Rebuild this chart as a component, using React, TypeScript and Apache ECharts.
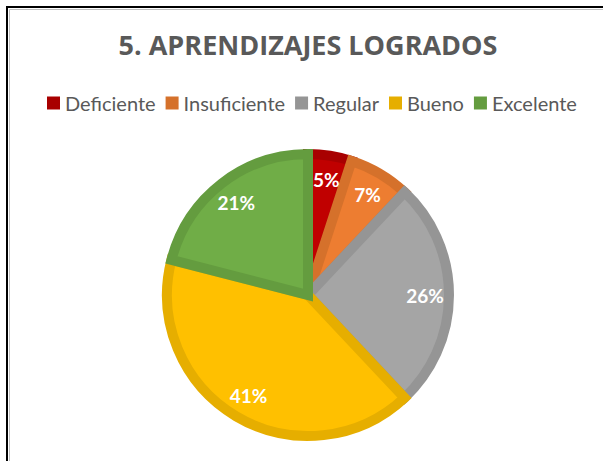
import React, { useEffect, useRef } from "react";
import * as echarts from "echarts";

const titleText = "5. APRENDIZAJES LOGRADOS";
const categories = ["Deficiente", "Insuficiente", "Regular", "Bueno", "Excelente"];
const values = [5, 7, 26, 41, 21];
const fillColors = ["#C00000", "#ED7D31", "#A5A5A5", "#FFC000", "#70AD47"];
const borderColors = ["#A80000", "#D5712B", "#959595", "#E6AE00", "#649C3F"];

export default function App() {
  const ref = useRef<HTMLDivElement>(null);
  useEffect(() => {
    if (!ref.current) return;
    const chart = echarts.init(ref.current, undefined, { renderer: "svg" });
    const mainData = categories.map((name, i) => ({
      name,
      value: values[i],
      itemStyle: { color: fillColors[i], borderColor: borderColors[i] },
    }));
    const labelData = categories.map((name, i) => ({ name, value: values[i] }));
    chart.setOption({
      animation: false,
      backgroundColor: "#ffffff",
      title: {
        text: titleText,
        left: 303,
        textAlign: "center",
        top: 26,
        textStyle: {
          fontFamily: "Open Sans",
          fontWeight: "bold",
          fontSize: 27,
          color: "#595959",
        },
      },
      legend: {
        top: 88,
        left: 42,
        itemWidth: 13,
        itemHeight: 13,
        itemGap: 10,
        icon: "rect",
        textStyle: { fontFamily: "Lato", fontSize: 20, color: "#595959" },
        itemStyle: { borderWidth: 0 },
        data: categories.map((name, i) => ({
          name,
          itemStyle: { color: borderColors[i], borderWidth: 0 },
        })),
      },
      graphic: [
        {
          type: "polyline",
          shape: { points: [[7, 461], [7, 7], [603, 7]] },
          style: { stroke: "#000000", lineWidth: 2, fill: null },
          z: 100,
        },
        {
          type: "polyline",
          shape: { points: [[9.5, 461], [9.5, 9.5], [603, 9.5]] },
          style: { stroke: "#bfbfbf", lineWidth: 1, fill: null },
          z: 100,
        },
      ],
      series: [
        {
          type: "pie",
          center: [308, 295],
          radius: [0, 141],
          startAngle: 90,
          clockwise: true,
          silent: true,
          label: { show: false },
          labelLine: { show: false },
          itemStyle: { borderWidth: 10, borderJoin: "miter" },
          data: mainData,
        },
        {
          type: "pie",
          center: [308, 295],
          radius: [82, 146],
          startAngle: 90,
          clockwise: true,
          silent: true,
          itemStyle: { color: "rgba(0,0,0,0)", borderWidth: 0 },
          label: {
            show: true,
            position: "inside",
            formatter: "{c}%",
            color: "#ffffff",
            fontFamily: "Lato",
            fontWeight: "bold",
            fontSize: 19,
          },
          labelLine: { show: false },
          data: labelData,
        },
      ],
    });
    return () => chart.dispose();
  }, []);
  return (
    <div
      ref={ref}
      style={{ position: "absolute", left: 0, top: 0, width: 603, height: 461 }}
    />
  );
}
